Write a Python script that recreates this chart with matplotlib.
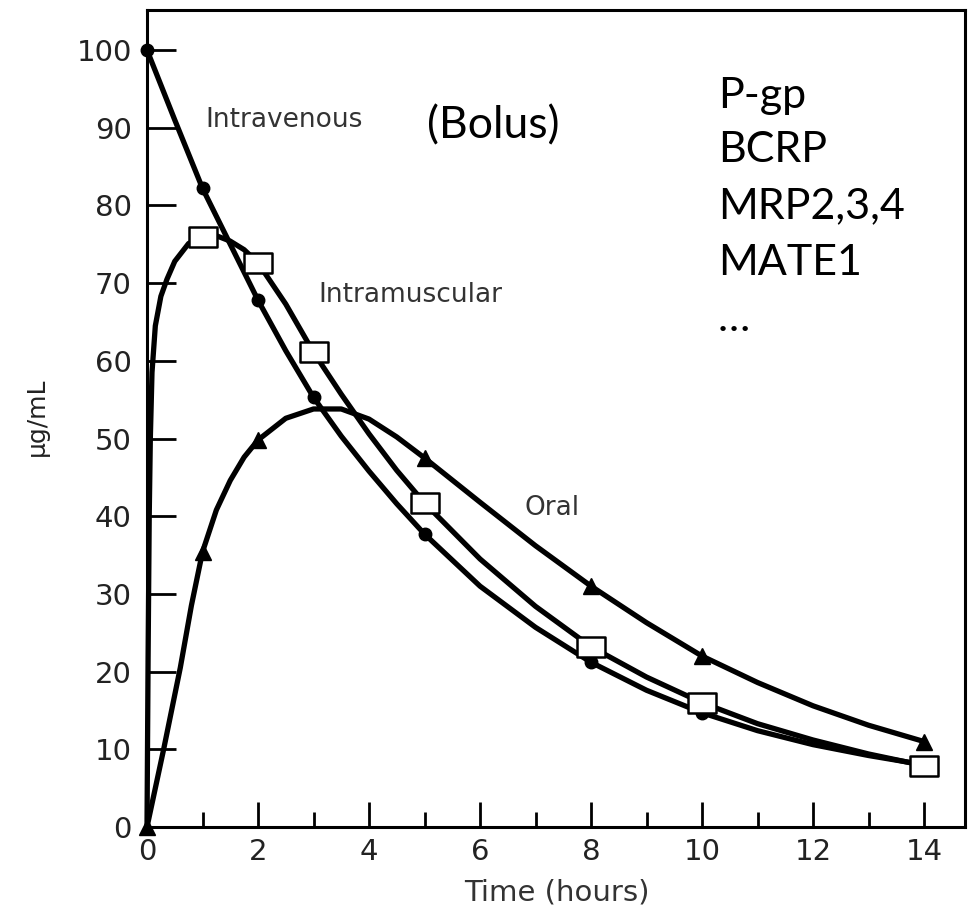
import matplotlib
matplotlib.use("Agg")
import matplotlib.pyplot as plt
from matplotlib.path import Path

# measured sample points (hours, ug/mL)
t_iv = [0, 1, 2, 3, 5, 8, 10]
c_iv = [100, 82.2, 67.8, 55.3, 37.7, 21.2, 14.7]
t_im = [1, 2, 3, 5, 8, 10, 14]
c_im = [75.9, 72.6, 61.1, 41.7, 23.2, 16.0, 7.9]
t_or = [0, 1, 2, 5, 8, 10, 14]
c_or = [0, 35.4, 49.8, 47.5, 31.0, 22.0, 11.0]

# curves
tl_iv = [0, 0.5, 1, 1.5, 2, 2.5, 3, 3.5, 4, 4.5, 5, 6, 7, 8, 9, 10, 11, 12, 13, 14]
cl_iv = [100, 91, 82.2, 75, 67.8, 61.3, 55.3, 50.3, 45.8, 41.6, 37.7, 31, 25.7, 21.2,
         17.6, 14.7, 12.4, 10.6, 9.2, 8.0]
tl_im = [0, 0.02, 0.04, 0.06, 0.09, 0.15, 0.25, 0.36, 0.5, 0.75, 1, 1.25, 1.5, 1.75,
         2, 2.5, 3, 3.5, 4, 4.5, 5, 6, 7, 8, 9, 10, 11, 12, 13, 14]
cl_im = [0, 22, 40, 50, 58.5, 64.5, 68.3, 70.5, 72.8, 75.1, 75.9, 76.1, 75.4, 74.3,
         72.6, 67.3, 61.1, 55.7, 50.6, 45.9, 41.7, 34.5, 28.4, 23.2, 19.3, 16.0, 13.3,
         11.2, 9.4, 7.9]
tl_or = [0, 0.3, 0.6, 0.8, 1, 1.25, 1.5, 1.75, 2, 2.5, 3, 3.5, 4, 4.5, 5, 6, 7, 8, 9,
         10, 11, 12, 13, 14]
cl_or = [0, 10, 20.5, 28.5, 35.4, 40.8, 44.6, 47.6, 49.8, 52.6, 53.8, 53.8, 52.5,
         50.2, 47.5, 41.8, 36.2, 31.0, 26.3, 22.0, 18.6, 15.6, 13.1, 11.0]

transporters = ["P-gp", "BCRP", "MRP2,3,4", "MATE1", "…"]
transporter_y = [92.5, 85.6, 78.3, 71.0, 63.8]

fig = plt.figure(figsize=(9.71, 9.17), dpi=100)
ax = fig.add_axes([147/971, 1 - 827/917, (965 - 147)/971, (827 - 10)/917])

lw = 3.8
ax.plot(tl_iv, cl_iv, color="black", lw=lw, solid_capstyle="round", clip_on=False)
ax.plot(tl_im, cl_im, color="black", lw=lw, solid_capstyle="round", clip_on=False)
ax.plot(tl_or, cl_or, color="black", lw=lw, solid_capstyle="round", clip_on=False)

rect = Path([(-1.45, -1), (1.45, -1), (1.45, 1), (-1.45, 1), (-1.45, -1)],
            [Path.MOVETO, Path.LINETO, Path.LINETO, Path.LINETO, Path.CLOSEPOLY])
ax.plot(t_iv, c_iv, "o", color="black", ms=9, clip_on=False, zorder=5)
ax.plot(t_im, c_im, marker=rect, ls="none", ms=20, mfc="white", mec="black",
        mew=1.8, clip_on=False, zorder=5)
ax.plot(t_or, c_or, "^", color="black", ms=11, clip_on=False, zorder=5)

ax.set_xlim(0, (965 - 147)/55.5)
ax.set_ylim(0, 100 + 40/7.77)
ax.set_xticks(range(0, 15, 2))
ax.set_xticks(range(1, 15, 2), minor=True)
ax.set_yticks(range(0, 101, 10))
ax.tick_params(axis="y", direction="in", length=21, width=2, labelsize=21, pad=11,
               labelcolor="#222222")
ax.tick_params(axis="x", which="major", direction="in", length=18, width=2,
               labelsize=21, pad=8, labelcolor="#222222")
ax.tick_params(axis="x", which="minor", direction="in", length=11, width=2)
for s in ax.spines.values():
    s.set_linewidth(2.2)

ax.text(1.05, 91.0, "Intravenous", fontsize=19, va="center", color="#333333")
ax.text(5.04, 88.6, "(Bolus)", fontsize=32, va="baseline", family="Lato")
ax.text(3.08, 68.5, "Intramuscular", fontsize=19, va="center", color="#333333")
ax.text(6.8, 41.1, "Oral", fontsize=19, va="center", color="#333333")
for label, y in zip(transporters, transporter_y):
    ax.text(10.29, y, label, fontsize=31, va="baseline", family="Lato")

fig.text(37/971, 1 - 417/917, "μg/mL", rotation=90, fontsize=18,
         ha="center", va="center", color="#222222")
fig.text(557/971, 1 - 892/917, "Time (hours)", fontsize=21, ha="center", va="center",
         color="#333333")

fig.savefig("out.png", dpi=100)
